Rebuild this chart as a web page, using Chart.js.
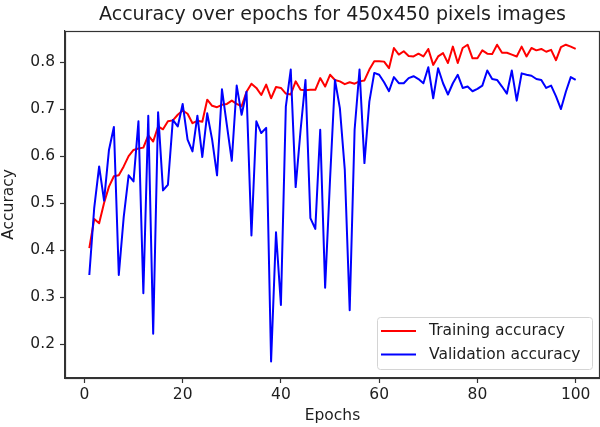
<!DOCTYPE html>
<html>
<head>
<meta charset="utf-8">
<title>Accuracy over epochs</title>
<script src="https://cdn.jsdelivr.net/npm/chart.js@4.4.1/dist/chart.umd.min.js"></script>
<style>
  html, body { margin: 0; padding: 0; background: #fff; overflow: hidden; }
  #wrap { width: 600px; height: 427px; }
</style>
</head>
<body>
<div id="wrap"><canvas id="acc-chart" width="600" height="427"></canvas></div>
<script>
/* Training vs validation accuracy per epoch */

const epochs = [
    1, 2, 3, 4, 5, 6, 7, 8, 9, 10, 11, 12, 13, 14, 15, 16, 17, 18, 19, 20,
    21, 22, 23, 24, 25, 26, 27, 28, 29, 30, 31, 32, 33, 34, 35, 36, 37, 38, 39, 40,
    41, 42, 43, 44, 45, 46, 47, 48, 49, 50, 51, 52, 53, 54, 55, 56, 57, 58, 59, 60,
    61, 62, 63, 64, 65, 66, 67, 68, 69, 70, 71, 72, 73, 74, 75, 76, 77, 78, 79, 80,
    81, 82, 83, 84, 85, 86, 87, 88, 89, 90, 91, 92, 93, 94, 95, 96, 97, 98, 99, 100
];

const trainAcc = [
    0.404, 0.466, 0.457, 0.500, 0.535, 0.557, 0.559, 0.578, 0.600, 0.613,
    0.616, 0.618, 0.644, 0.631, 0.663, 0.657, 0.674, 0.676, 0.688, 0.697,
    0.690, 0.670, 0.675, 0.673, 0.720, 0.707, 0.704, 0.709, 0.711, 0.718,
    0.711, 0.706, 0.737, 0.754, 0.745, 0.730, 0.752, 0.723, 0.747, 0.745,
    0.733, 0.731, 0.759, 0.741, 0.740, 0.741, 0.741, 0.766, 0.748, 0.773,
    0.762, 0.759, 0.753, 0.757, 0.754, 0.759, 0.761, 0.784, 0.802, 0.802,
    0.801, 0.787, 0.830, 0.816, 0.823, 0.813, 0.812, 0.818, 0.812, 0.828,
    0.794, 0.812, 0.819, 0.798, 0.833, 0.798, 0.830, 0.837, 0.808, 0.808,
    0.825, 0.818, 0.817, 0.837, 0.820, 0.820, 0.816, 0.812, 0.833, 0.812,
    0.830, 0.825, 0.828, 0.822, 0.826, 0.804, 0.832, 0.837, 0.833, 0.828
];

const valAcc = [
    0.347, 0.490, 0.578, 0.505, 0.613, 0.662, 0.347, 0.470, 0.559, 0.546,
    0.674, 0.308, 0.686, 0.222, 0.693, 0.527, 0.539, 0.677, 0.663, 0.711,
    0.635, 0.610, 0.686, 0.598, 0.691, 0.635, 0.559, 0.742, 0.666, 0.590,
    0.750, 0.688, 0.737, 0.431, 0.674, 0.649, 0.660, 0.163, 0.438, 0.283,
    0.705, 0.784, 0.534, 0.655, 0.762, 0.468, 0.445, 0.656, 0.320, 0.550,
    0.762, 0.702, 0.571, 0.272, 0.656, 0.784, 0.585, 0.716, 0.777, 0.773,
    0.757, 0.738, 0.768, 0.755, 0.755, 0.766, 0.770, 0.764, 0.755, 0.789,
    0.723, 0.787, 0.755, 0.731, 0.755, 0.773, 0.745, 0.748, 0.738, 0.743,
    0.750, 0.782, 0.764, 0.762, 0.748, 0.733, 0.782, 0.718, 0.776, 0.773,
    0.771, 0.764, 0.762, 0.745, 0.750, 0.727, 0.700, 0.737, 0.768, 0.762
];

const xTicks = [0, 20, 40, 60, 80, 100];
const xTickLabels = ['0', '20', '40', '60', '80', '100'];
const yTicks = [0.2, 0.3, 0.4, 0.5, 0.6, 0.7, 0.8];
const yTickLabels = ['0.2', '0.3', '0.4', '0.5', '0.6', '0.7', '0.8'];

const FONT = 'DejaVu Sans';
const INK = '#1e1e1e';
const SPINE = '#333333';

function toPoints(xs, ys) {
    return xs.map((x, i) => ({ x: x, y: ys[i] }));
}

// closed box around the plot area, like the other three spines
const frame = {
    id: 'frame',
    afterDatasetsDraw(chart) {
        const { ctx, chartArea: a } = chart;
        ctx.save();
        ctx.strokeStyle = SPINE;
        ctx.lineWidth = 1.2;
        ctx.strokeRect(Math.round(a.left) + 0.5, Math.round(a.top) + 0.5,
            Math.round(a.right - a.left) - 1, Math.round(a.bottom - a.top));
        ctx.restore();
    }
};

// legend box tucked into the lower right corner of the plot
const cornerLegend = {
    id: 'cornerLegend',
    afterDraw(chart) {
        const { ctx, chartArea: a } = chart;
        const w = 215, h = 52;
        const left = a.right - 8 - w;
        const top = a.bottom - 9 - h;
        ctx.save();
        ctx.beginPath();
        ctx.roundRect(left + 0.5, top + 0.5, w, h, 3);
        ctx.fillStyle = 'rgba(255,255,255,0.85)';
        ctx.fill();
        ctx.strokeStyle = '#d4d4d4';
        ctx.lineWidth = 1;
        ctx.stroke();

        ctx.font = '15.5px "' + FONT + '"';
        ctx.textBaseline = 'middle';
        ctx.textAlign = 'left';
        chart.data.datasets.forEach((ds, i) => {
            const y = top + 14 + i * 23.5;
            ctx.strokeStyle = ds.borderColor;
            ctx.lineWidth = 2;
            ctx.beginPath();
            ctx.moveTo(left + 4, y);
            ctx.lineTo(left + 39, y);
            ctx.stroke();
            ctx.fillStyle = INK;
            ctx.fillText(ds.label, left + 52, y);
        });
        ctx.restore();
    }
};

const ctx = document.getElementById('acc-chart').getContext('2d');

new Chart(ctx, {
    type: 'line',
    data: {
        datasets: [{
            label: 'Training accuracy',
            data: toPoints(epochs, trainAcc),
            borderColor: '#ff0000',
            borderWidth: 2,
            pointRadius: 0,
            tension: 0,
            borderJoinStyle: 'round',
            order: 2
        }, {
            label: 'Validation accuracy',
            data: toPoints(epochs, valAcc),
            borderColor: '#0000ff',
            borderWidth: 2,
            pointRadius: 0,
            tension: 0,
            borderJoinStyle: 'round',
            order: 1
        }]
    },
    options: {
        responsive: false,
        animation: false,
        events: [],
        layout: { padding: 0 },
        plugins: {
            legend: { display: false },
            tooltip: { enabled: false },
            title: {
                display: true,
                text: 'Accuracy over epochs for 450x450 pixels images',
                fullSize: false,
                color: INK,
                font: { family: FONT, size: 19, weight: 'normal', lineHeight: 1.2 },
                padding: { top: 4, bottom: 4 }
            }
        },
        scales: {
            x: {
                type: 'linear',
                min: -3.95,
                max: 104.95,
                afterBuildTicks: (scale) => { scale.ticks = xTicks.map(v => ({ value: v })); },
                afterFit: (scale) => { scale.height = 49; },
                grid: { drawOnChartArea: false, drawTicks: true, tickLength: 5, tickColor: SPINE, tickWidth: 1.2 },
                border: { display: true, color: SPINE, width: 1.2 },
                ticks: {
                    color: INK,
                    font: { family: FONT, size: 15.5 },
                    padding: 3,
                    maxRotation: 0,
                    autoSkip: false,
                    callback: (v, i) => xTickLabels[i]
                },
                title: {
                    display: true,
                    text: 'Epochs',
                    color: INK,
                    font: { family: FONT, size: 15.5, lineHeight: 1.2 },
                    padding: { top: 0, bottom: 2 }
                }
            },
            y: {
                min: 0.1277,
                max: 0.8666,
                afterBuildTicks: (scale) => { scale.ticks = yTicks.map(v => ({ value: v })); },
                afterFit: (scale) => { scale.width = 65; },
                grid: { drawOnChartArea: false, drawTicks: true, tickLength: 5, tickColor: SPINE, tickWidth: 1.2 },
                border: { display: true, color: SPINE, width: 1.2 },
                ticks: {
                    color: INK,
                    font: { family: FONT, size: 15.5 },
                    padding: 5,
                    autoSkip: false,
                    callback: (v, i) => yTickLabels[i]
                },
                title: {
                    display: true,
                    text: 'Accuracy',
                    color: INK,
                    font: { family: FONT, size: 15.5, lineHeight: 1.2 },
                    padding: { top: 0, bottom: 0, left: 2, right: 0 }
                }
            }
        }
    },
    plugins: [frame, cornerLegend]
});
</script>
</body>
</html>
